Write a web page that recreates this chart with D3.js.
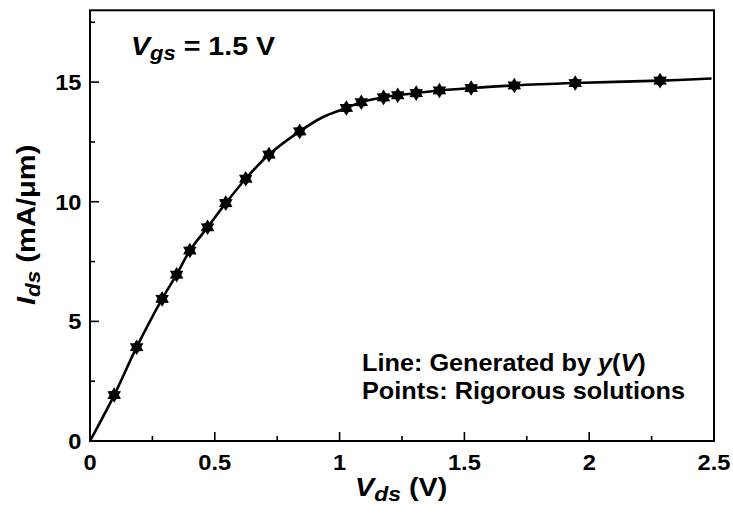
<!DOCTYPE html>
<html><head><meta charset="utf-8">
<script src="https://cdn.jsdelivr.net/npm/d3@7"></script>
<style>
body{margin:0;background:#fff;}
text{font-family:"Liberation Sans",Arial,sans-serif;font-weight:bold;fill:#000;}
</style></head>
<body>
<svg id="c" width="733" height="514"></svg>
<script>
// Data
const pointsV = [0.097,0.187,0.289,0.347,0.40,0.471,0.544,0.624,0.717,0.84,1.027,1.087,1.176,1.233,1.307,1.40,1.527,1.70,1.944,2.284];
const pointsI = [1.92,3.92,5.94,6.95,7.96,8.93,9.94,10.96,11.97,12.94,13.92,14.16,14.36,14.45,14.54,14.65,14.75,14.86,14.96,15.06];
const lineV = [0,0.097,0.187,0.289,0.347,0.40,0.471,0.544,0.624,0.717,0.84,0.93,1.027,1.087,1.176,1.233,1.307,1.40,1.527,1.70,1.944,2.284,2.49];
const lineI = [0,1.92,3.92,5.94,6.95,7.96,8.93,9.94,10.96,11.97,12.94,13.52,13.92,14.16,14.36,14.45,14.54,14.65,14.75,14.86,14.96,15.06,15.15];
const xTicks = [0,0.5,1,1.5,2,2.5];
const xMinor = [0.25,0.75,1.25,1.75,2.25];
const yTicks = [0,5,10,15];
const yMinor = [2.5,7.5,12.5,17.5];

const svg = d3.select("#c");
const x = d3.scaleLinear().domain([0,2.5]).range([90,714]);
const y = d3.scaleLinear().domain([0,18]).range([441,10.3]);

function label(g, tx, ty, anchor, sx){
  return g.append("text").attr("transform",`translate(${tx},${ty}) scale(${sx||1.1},1)`).attr("text-anchor",anchor||"start");
}

// frame
svg.append("rect").attr("x",x(0)).attr("y",y(18)).attr("width",x(2.5)-x(0)).attr("height",y(0)-y(18))
  .attr("fill","none").attr("stroke","#000").attr("stroke-width",2);

// ticks (inside)
const tk = svg.append("g").attr("stroke","#000").attr("stroke-width",1.6);
xTicks.forEach(v=>tk.append("line").attr("x1",x(v)).attr("x2",x(v)).attr("y1",y(0)).attr("y2",y(0)-9));
xMinor.forEach(v=>tk.append("line").attr("x1",x(v)).attr("x2",x(v)).attr("y1",y(0)).attr("y2",y(0)-5));
yTicks.forEach(v=>tk.append("line").attr("y1",y(v)).attr("y2",y(v)).attr("x1",x(0)).attr("x2",x(0)+9));
yMinor.forEach(v=>tk.append("line").attr("y1",y(v)).attr("y2",y(v)).attr("x1",x(0)).attr("x2",x(0)+5));

// tick labels
xTicks.forEach(v=>label(svg, x(v), 470, "middle").style("font-size","21.5px").text(v));
yTicks.forEach(v=>label(svg, 81.5, y(v)+8, "end").style("font-size","21.5px").text(v));

// curve
const lineData = lineV.map((v,i)=>[v,lineI[i]]);
svg.append("path").datum(lineData)
  .attr("d", d3.line().x(d=>x(d[0])).y(d=>y(d[1])).curve(d3.curveCatmullRom.alpha(0.5)))
  .attr("fill","none").attr("stroke","#000").attr("stroke-width",2.6);

// six-pointed stars
function hexagram(R){
  const r = R*0.6, pts=[];
  for(let k=0;k<12;k++){
    const a = -Math.PI/2 + k*Math.PI/6;
    const rr = k%2===0?R:r;
    pts.push([rr*Math.cos(a), rr*Math.sin(a)]);
  }
  return "M"+pts.map(p=>p[0].toFixed(2)+","+p[1].toFixed(2)).join("L")+"Z";
}
const star = hexagram(7.8);
svg.append("g").selectAll("path").data(pointsV.map((v,i)=>[v,pointsI[i]])).join("path")
  .attr("d",star).attr("transform",d=>`translate(${x(d[0])},${y(d[1])})`).attr("fill","#000");

// Vgs label
const t1 = label(svg, 131, 55, "start").style("font-size","26px");
t1.append("tspan").style("font-style","italic").text("V");
t1.append("tspan").style("font-style","italic").style("font-size","20px").attr("dy",5).text("gs");
t1.append("tspan").attr("dy",-5).text(" = 1.5 V");

// legend text
const l1 = label(svg, 362, 371, "start").style("font-size","23px");
l1.append("tspan").text("Line: Generated by ");
l1.append("tspan").style("font-style","italic").text("y");
l1.append("tspan").text("(");
l1.append("tspan").style("font-style","italic").text("V");
l1.append("tspan").text(")");
label(svg, 362, 399, "start").style("font-size","23px").text("Points: Rigorous solutions");

// x-axis title
const xt = label(svg, 355, 496, "start", 1.15).style("font-size","25px");
xt.append("tspan").style("font-style","italic").text("V");
xt.append("tspan").style("font-style","italic").style("font-size","20px").attr("dy",5).text("ds");
xt.append("tspan").attr("dy",-5).text(" (V)");

// y-axis title
const yt = svg.append("text").attr("transform","translate(35,305) rotate(-90) scale(1.12,1)").style("font-size","26px");
yt.append("tspan").style("font-style","italic").text("I");
yt.append("tspan").style("font-style","italic").style("font-size","20px").attr("dy",5).text("ds");
yt.append("tspan").attr("dy",-5).text(" (mA/\u03BCm)");
</script>
</body></html>
